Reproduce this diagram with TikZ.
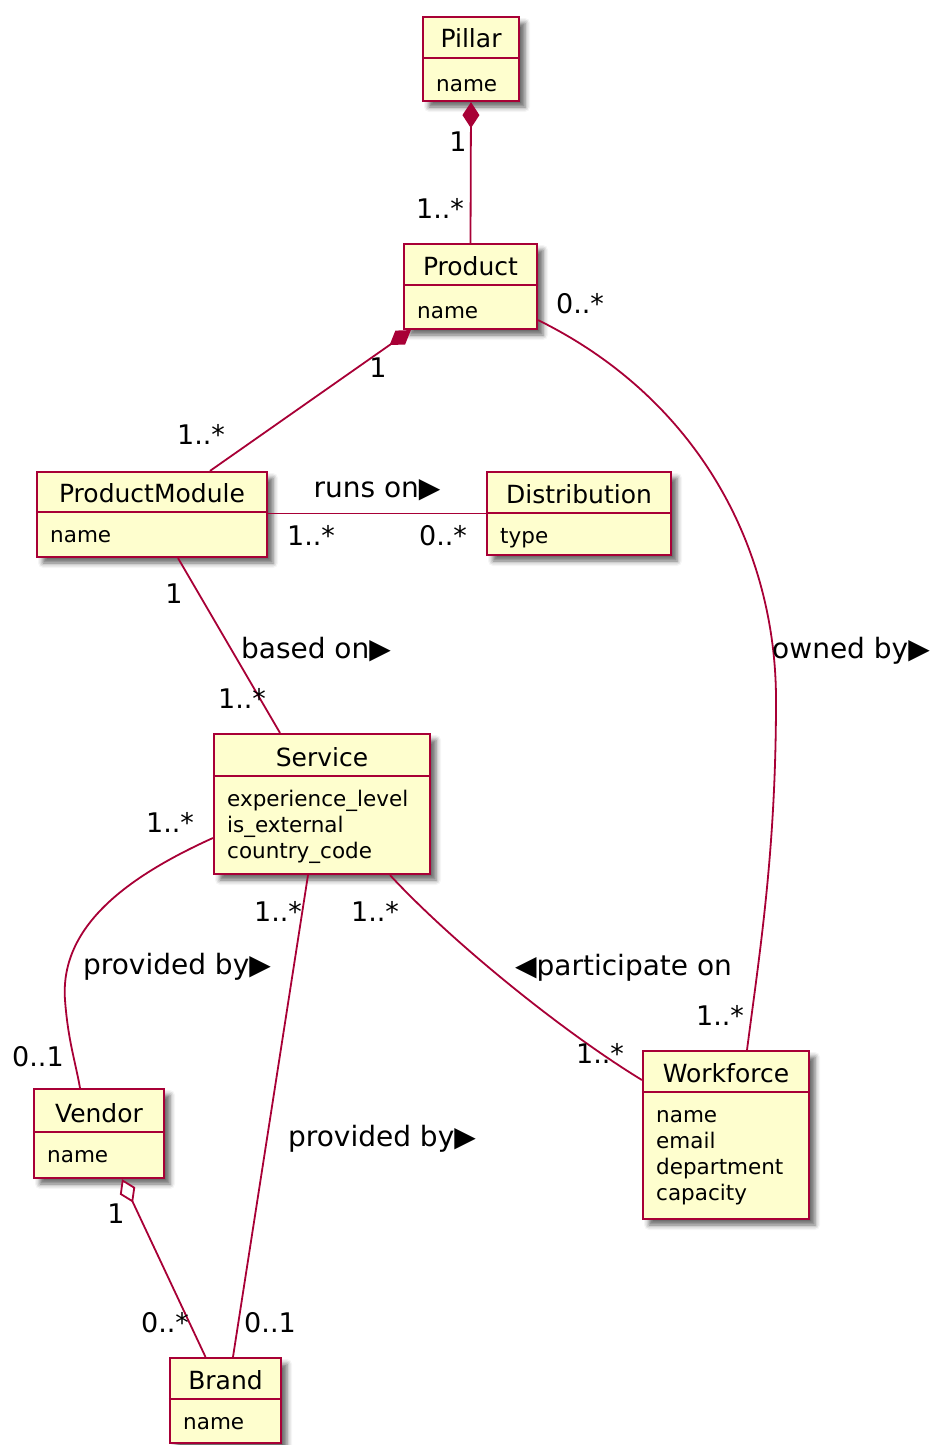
\documentclass[tikz,border=0pt]{standalone}
\usepackage{fontspec}
\setmainfont{DejaVu Sans}
\usetikzlibrary{arrows.meta,shadows.blur,calc}
\definecolor{umlred}{RGB}{168,0,54}
\definecolor{umlfill}{RGB}{254,254,206}
\tikzset{
  classbox/.style={draw=umlred, fill=umlfill, line width=2.2pt, inner sep=0pt,
    blur shadow={shadow xshift=6pt, shadow yshift=-6pt, shadow blur radius=5pt, shadow opacity=60}},
  sepline/.style={draw=umlred, line width=2pt},
  classtitle/.style={font=\fontsize{25}{30}\selectfont, anchor=base, inner sep=0pt},
  attr/.style={font=\fontsize{21.5}{26}\selectfont, anchor=base west, inner sep=0pt},
  mult/.style={font=\fontsize{27}{32}\selectfont, anchor=base, inner sep=0pt},
  assoc/.style={font=\fontsize{28}{32}\selectfont, anchor=base, inner sep=0pt},
  link/.style={draw=umlred, line width=1.8pt},
  composed/.style={{Diamond[length=26pt,width=17pt,fill=umlred]}-},
  aggregated/.style={{Diamond[open,length=26pt,width=17pt,fill=white]}-},
}
% class box: name, centre x, centre y, width, height, separator y
\newcommand{\umlclass}[6]{%
  \node[classbox, minimum width=#4pt, minimum height=#5pt] (#1) at (#2,#3) {};
  \draw[sepline] (#1.west |- 0,#6) -- (#1.east |- 0,#6);
}
\begin{document}
\begin{tikzpicture}[x=1pt,y=-1pt]
\useasboundingbox (0,0) rectangle (935,1445);

% ---- classes ----
\umlclass{pillar}{471}{59}{96}{84}{58}
\node[classtitle] (pillarT) at (471,48) {Pillar};
\node[attr] (pillarA) at (436,91) {name};

\umlclass{product}{470.5}{286.5}{133}{85}{285}
\node[classtitle] (productT) at (470.5,275) {Product};
\node[attr] (productA) at (417,318) {name};

\umlclass{pm}{152}{514.5}{230}{85}{512}
\node[classtitle] (pmT) at (152,502) {ProductModule};
\node[attr] (pmA) at (50,542) {name};

\umlclass{dist}{579}{513.5}{184}{83}{513}
\node[classtitle] (distT) at (579,503) {Distribution};
\node[attr] (distA) at (500,543) {type};

\umlclass{service}{322}{804}{216}{140}{776}
\node[classtitle] (serviceT) at (322,766) {Service};
\node[attr] (serviceA1) at (227,806) {experience\_level};
\node[attr] (serviceA2) at (227,832.5) {is\_external};
\node[attr] (serviceA3) at (227,858.5) {country\_code};

\umlclass{wf}{726}{1135}{166}{168}{1092}
\node[classtitle] (wfT) at (726,1082) {Workforce};
\node[attr] (wfA1) at (656,1122) {name};
\node[attr] (wfA2) at (656,1148) {email};
\node[attr] (wfA3) at (656,1174) {department};
\node[attr] (wfA4) at (656,1200) {capacity};

\umlclass{vendor}{99}{1133.5}{130}{89}{1132}
\node[classtitle] (vendorT) at (99,1122) {Vendor};
\node[attr] (vendorA) at (47,1162) {name};

\umlclass{brand}{225.5}{1400.5}{111}{85}{1399}
\node[classtitle] (brandT) at (225.5,1389) {Brand};
\node[attr] (brandA) at (183,1429) {name};

% ---- relations ----
\draw[link, composed] (pillar.south) -- (product.north);
\draw[link, composed] ([xshift=8pt]product.south west) -- ([xshift=58pt]pm.north);
\draw[link] ([yshift=10pt]product.south east)
  .. controls (700,400) and (776,550) .. (776,700)
  .. controls (776,850) and (760,950) .. ([xshift=21pt]wf.north);
\draw[link] ([yshift=1pt]pm.east) -- (dist.west);
\draw[link] ([xshift=26pt]pm.south) -- ([xshift=-42pt]service.north);
\draw[link] ([yshift=-34pt]service.west)
  .. controls (120,880) and (60,930) .. (65,1000)
  .. controls (68,1040) and (75,1060) .. ([xshift=-19pt]vendor.north);
\draw[link] ([xshift=-14pt]service.south) -- ([xshift=7.5pt]brand.north);
\draw[link] ([xshift=68pt]service.south)
  .. controls (450,940) and (560,1030) .. ([yshift=55pt]wf.west);
\draw[link, aggregated] ([xshift=23pt]vendor.south) -- ([xshift=-20pt]brand.north);

% ---- association names ----
\node[assoc] (lRuns) at (377,497) {runs on▶};
\node[assoc] (lOwned) at (851,658) {owned by▶};
\node[assoc] (lBased) at (316,658) {based on▶};
\node[assoc] (lProvV) at (177,974) {provided by▶};
\node[assoc] (lProvB) at (382,1146) {provided by▶};
\node[assoc] (lPart) at (623.5,975) {◀participate on};

% ---- multiplicities ----
\node[mult] (m1) at (458,151) {1};
\node[mult] (m2) at (440,218) {1..*};
\node[mult] (m3) at (378,377) {1};
\node[mult] (m4) at (201,444) {1..*};
\node[mult] (m5) at (580,313) {0..*};
\node[mult] (m6) at (311,545) {1..*};
\node[mult] (m7) at (443,545) {0..*};
\node[mult] (m8) at (174,603) {1};
\node[mult] (m9) at (242,708) {1..*};
\node[mult] (m10) at (170,832) {1..*};
\node[mult] (m11) at (38,1066) {0..1};
\node[mult] (m12) at (278,921) {1..*};
\node[mult] (m13) at (375,921) {1..*};
\node[mult] (m14) at (720,1025) {1..*};
\node[mult] (m15) at (600,1063) {1..*};
\node[mult] (m16) at (116,1223) {1};
\node[mult] (m17) at (165,1332) {0..*};
\node[mult] (m18) at (270,1332) {0..1};
\end{tikzpicture}
\end{document}
